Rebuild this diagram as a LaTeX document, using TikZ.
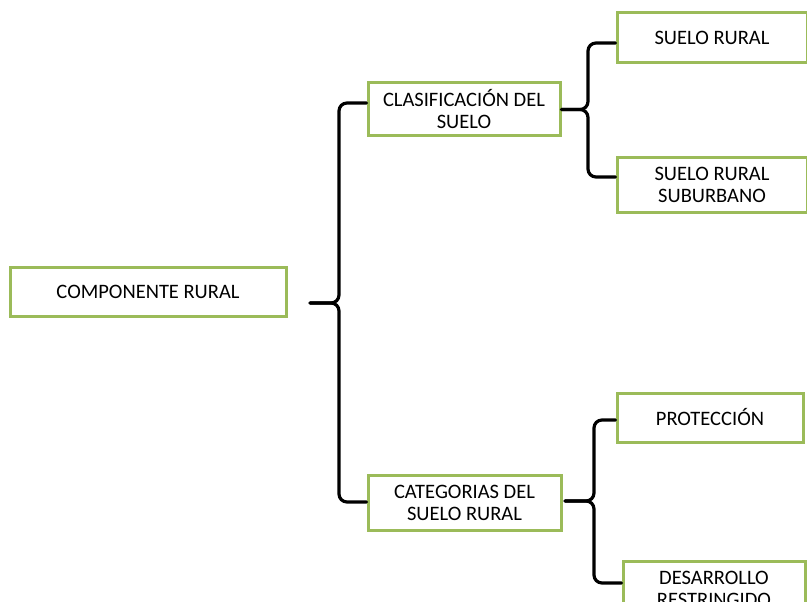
\documentclass[tikz,border=0pt]{standalone}
\usepackage{fontspec}
\setmainfont{Carlito}
\usetikzlibrary{calc}
\definecolor{boxgreen}{HTML}{9BBB59}
\tikzset{
  box/.style={draw=boxgreen, line width=3pt, fill=white, inner sep=0pt, align=center,
    font=\fontsize{20.5}{22}\selectfont, text=black},
  conn/.style={draw=black, line width=3.2pt, rounded corners=8pt, line cap=round}
}
\begin{document}
\begin{tikzpicture}[x=1pt,y=-1pt]
\useasboundingbox (0,0) rectangle (807,602);
% nodes
\node[box, minimum width=276pt, minimum height=49pt] (comp) at (148,291.5) {COMPONENTE RURAL};
\node[box, minimum width=192pt, minimum height=53pt] (clas) at (464,109.5) {CLASIFICACIÓN DEL\\SUELO};
\node[box, minimum width=193pt, minimum height=55pt] (cat) at (464.5,502.5) {CATEGORIAS DEL\\SUELO RURAL};
\node[box, minimum width=190pt, minimum height=50pt] (sr) at (712,38) {SUELO RURAL};
\node[box, minimum width=190pt, minimum height=55pt] (srs) at (712,184.5) {SUELO RURAL\\SUBURBANO};
\node[box, minimum width=186pt, minimum height=49pt] (prot) at (710,417.5) {PROTECCIÓN};
\node[box, minimum width=182pt, minimum height=55pt, text depth=0pt] (des) at (714,589) {DESARROLLO\\RESTRINGIDO};
% brace tips
\coordinate (t1) at (310,303);
\coordinate (t2) at (clas.east);
\coordinate (t3) at (565,501);
% brace 1
\draw[conn] ($(clas.west)+(0,-6.5)$) -- (339,103) -- (339,303) -- (t1);
\draw[conn] (t1) -- (339,303) -- (339,502) -- ($(cat.west)+(0,-0.5)$);
% brace 2
\draw[conn] ($(sr.west)+(0,5)$) -- (588,43) -- (588,109.5) -- (t2);
\draw[conn] (t2) -- (588,109.5) -- (588,177) -- ($(srs.west)+(0,-7.5)$);
% brace 3
\draw[conn] ($(prot.west)+(0,2.5)$) -- (594,420) -- (594,501) -- (t3);
\draw[conn] (t3) -- (594,501) -- (594,583) -- ($(des.west)+(0,-6)$);
\end{tikzpicture}
\end{document}
